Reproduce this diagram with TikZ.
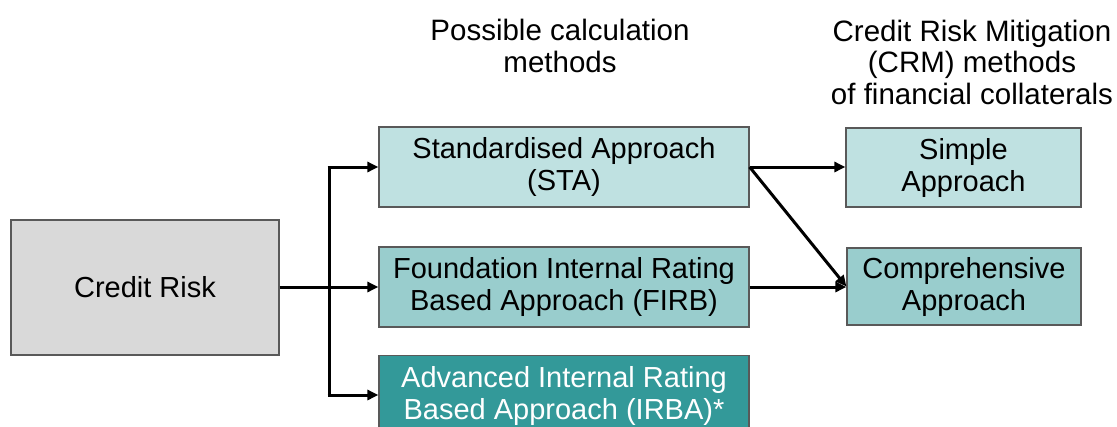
\documentclass[tikz,border=0pt]{standalone}
\usepackage{fontspec}
\setmainfont{Liberation Sans}
\usetikzlibrary{arrows.meta}
\definecolor{grayfill}{HTML}{D9D9D9}
\definecolor{bordergray}{HTML}{595959}
\definecolor{lightteal}{HTML}{BFE1E1}
\definecolor{midteal}{HTML}{99CDCD}
\definecolor{darkteal}{HTML}{339999}
\begin{document}
\begin{tikzpicture}[x=1pt,y=-1pt,
  box/.style={draw=bordergray,line width=1.2pt,align=center,inner sep=0pt,
    font=\fontsize{29}{32}\selectfont},
  conn/.style={line width=3pt,-{Triangle[length=11pt,width=10pt]}},
  plain/.style={line width=3pt},
  title/.style={align=center,font=\fontsize{29.5}{31.5}\selectfont}]
\useasboundingbox (0,0) rectangle (1117,426);
\begin{scope}
\clip (0,0) rectangle (1117,426);
\node[box,fill=grayfill,minimum width=268pt,minimum height=135pt] (cr) at (145,287.5) {Credit Risk};
\node[box,fill=lightteal,minimum width=370pt,minimum height=80pt] (sta) at (564,167) {Standardised Approach\\(STA)};
\node[box,fill=midteal,minimum width=370pt,minimum height=80pt] (firb) at (564,287) {Foundation Internal Rating\\Based Approach (FIRB)};
\node[box,fill=darkteal,text=white,minimum width=370pt,minimum height=80pt,anchor=north] (irba) at (564,355) {Advanced Internal Rating\\Based Approach (IRBA)*};
\node[box,fill=lightteal,minimum width=235pt,minimum height=79pt] (simple) at (963.5,167.5) {Simple\\Approach};
\node[box,fill=midteal,minimum width=234pt,minimum height=77pt] (comp) at (964,286.5) {Comprehensive\\Approach};
\end{scope}
\node[title] (t1) at (560,46) {Possible calculation\\methods};
\node[title] (t2) at (972,62) {Credit Risk Mitigation\\(CRM) methods\\of financial collaterals};
\coordinate (j) at (329,287);
\coordinate (jt) at (329,167);
\coordinate (jb) at (329,395);
\draw[plain] (cr.east |- j) -- (j);
\draw[plain] (jt) -- (jb);
\draw[conn] ([xshift=-1.5pt]jt) -- (sta.west |- jt);
\draw[conn] (j) -- (firb.west |- j);
\draw[conn] ([xshift=-1.5pt]jb) -- (irba.west |- jb);
\draw[conn] (sta.east) -- (simple.west |- sta.east);
\draw[conn] (sta.east) -- (comp.west);
\draw[conn] (firb.east) -- (comp.west |- firb.east);
\end{tikzpicture}
\end{document}
